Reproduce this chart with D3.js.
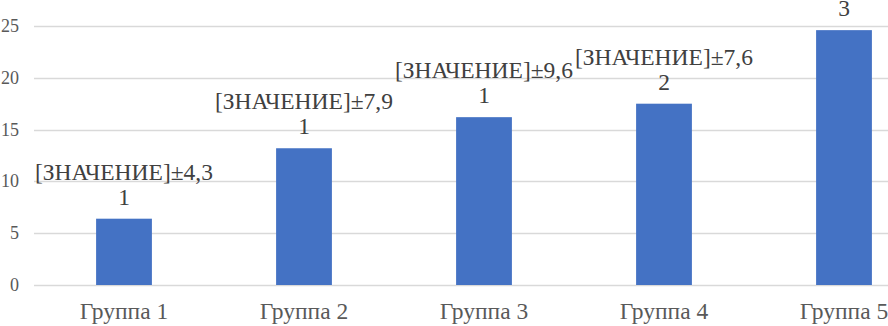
<!DOCTYPE html>
<html lang="ru">
<head>
<meta charset="utf-8">
<title>Группы</title>
<script src="https://cdnjs.cloudflare.com/ajax/libs/d3/7.8.5/d3.min.js"></script>
<style>
  body { margin: 0; background: #fff; }
</style>
</head>
<body>
<script>
// data
var categories = ["Группа 1", "Группа 2", "Группа 3", "Группа 4", "Группа 5"];
var values = [6.4, 13.2, 16.2, 17.5, 24.6];
var errors = ["4,3", "7,9", "9,6", "7,6", "8,1"];
var counts = ["1", "1", "1", "2", "3"];
var yTicks = [0, 5, 10, 15, 20, 25];

var w = 888, h = 326;
var left = 34, bottom = 285;
var serif = "Liberation Serif";

var svg = d3.select("body").append("svg")
  .attr("width", w)
  .attr("height", h)
  .attr("font-family", serif);

var x = d3.scaleBand()
  .domain(categories)
  .range([left, left + 900])
  .paddingInner(0.69)
  .paddingOuter(0.345);

var y = d3.scaleLinear()
  .domain([0, 25])
  .range([bottom, 26]);

// gridlines
svg.selectAll("line.grid")
  .data(yTicks)
  .enter()
  .append("line")
  .attr("class", "grid")
  .attr("x1", left)
  .attr("x2", w)
  .attr("y1", function(d) { return Math.round(y(d)) + 0.5; })
  .attr("y2", function(d) { return Math.round(y(d)) + 0.5; })
  .attr("stroke", "#d9d9d9")
  .attr("stroke-width", 1.3);

// y tick labels
svg.selectAll("text.ytick")
  .data(yTicks)
  .enter()
  .append("text")
  .attr("class", "ytick")
  .attr("x", 19)
  .attr("y", function(d) { return y(d) + 6; })
  .attr("text-anchor", "end")
  .attr("font-family", serif)
  .attr("font-size", "18px")
  .attr("fill", "#595959")
  .text(function(d) { return d; });

// bars
svg.selectAll("rect")
  .data(values)
  .enter()
  .append("rect")
  .attr("x", function(d, i) { return x(categories[i]); })
  .attr("y", function(d) { return y(d); })
  .attr("width", x.bandwidth())
  .attr("height", function(d) { return bottom - y(d); })
  .attr("fill", "#4472c4");

// x labels
svg.selectAll("text.xtick")
  .data(categories)
  .enter()
  .append("text")
  .attr("class", "xtick")
  .attr("x", function(d) { return x(d) + x.bandwidth() / 2; })
  .attr("y", 319)
  .attr("text-anchor", "middle")
  .attr("font-family", serif)
  .attr("font-size", "23.5px")
  .attr("fill", "#595959")
  .text(function(d) { return d; });

// data labels, two lines
var labels = svg.selectAll("g.lbl")
  .data(values)
  .enter()
  .append("g")
  .attr("class", "lbl");

labels.append("text")
  .attr("x", function(d, i) { return x(categories[i]) + x.bandwidth() / 2; })
  .attr("y", function(d) { return y(d) - 39; })
  .attr("text-anchor", "middle")
  .attr("font-family", serif)
  .attr("font-size", "23.5px")
  .attr("fill", "#404040")
  .text(function(d, i) { return "[ЗНАЧЕНИЕ]±" + errors[i]; });

labels.append("text")
  .attr("x", function(d, i) { return x(categories[i]) + x.bandwidth() / 2; })
  .attr("y", function(d) { return y(d) - 14; })
  .attr("text-anchor", "middle")
  .attr("font-family", serif)
  .attr("font-size", "23.5px")
  .attr("fill", "#404040")
  .text(function(d, i) { return counts[i]; });
</script>
</body>
</html>
